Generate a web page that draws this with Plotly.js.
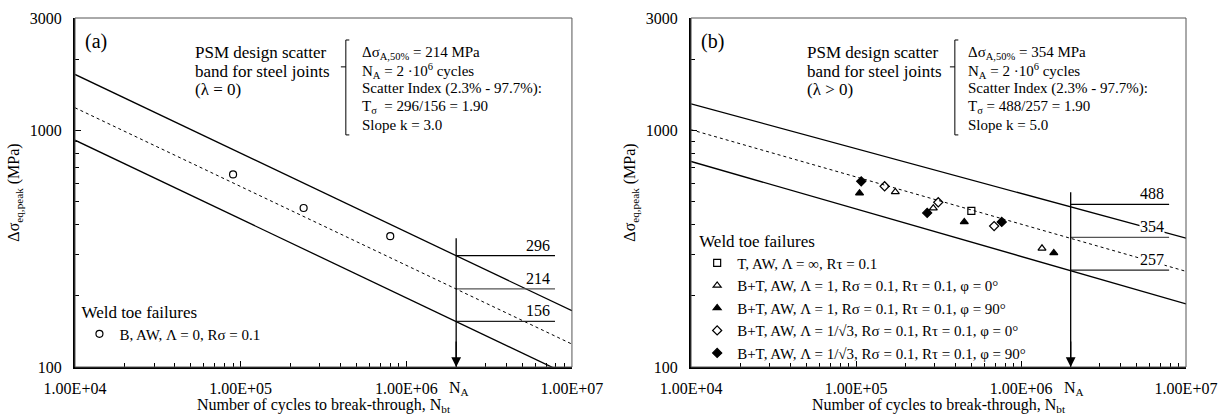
<!DOCTYPE html>
<html>
<head>
<meta charset="utf-8">
<script src="https://cdn.plot.ly/plotly-3.0.1.min.js"></script>
<style>html,body{margin:0;padding:0;background:#fff;}#chart{width:1221px;height:415px;}</style>
</head>
<body>
<div id="chart"></div>
<script>
// ---------- data ----------
const cyclesRange = [1e4, 1e7];
// panel (a): lambda = 0, slope k = 3
const bandA_upper  = [1731, 173];
const bandA_median = [1251, 125];
const bandA_lower  = [912, 91];
const levelsA = [296, 214, 156];
const arrowTopA = 351;
// panel (b): lambda > 0, slope k = 5
const bandB_upper  = [1300, 351];
const bandB_median = [1010, 254];
const bandB_lower  = [741, 185];
const levelsB = [488, 354, 257];
const arrowTopB = 549;
const NA = 2e6;
const levelLineEnd = 7.9e6;

// test data (a)
const ptsA_N = [9.0e4, 2.4e5, 8.0e5];
const ptsA_S = [653, 471, 358];
// test data (b)
const ptsT_N = [5.0e5];
const ptsT_S = [458];
const ptsBT1_0_N = [1.73e5, 2.94e5, 1.34e6];
const ptsBT1_0_S = [551, 470, 318];
const ptsBT1_90_N = [1.05e5, 4.53e5, 1.58e6];
const ptsBT1_90_S = [544, 411, 304];
const ptsBTr_0_N = [1.49e5, 3.15e5, 6.87e5];
const ptsBTr_0_S = [582, 498, 395];
const ptsBTr_90_N = [1.075e5, 2.70e5, 7.64e5];
const ptsBTr_90_S = [611, 449, 411];

const xTickVals = [1e4, 1e5, 1e6, 1e7];
const xTickText = ['1.00E+04', '1.00E+05', '1.00E+06', '1.00E+07'];
const yTickVals = [100, 1000, 3000];
const yTickText = ['100', '1000', '3000'];

const seriesNames = {
  a: 'B, AW, Λ = 0, Rσ = 0.1',
  t: 'T, AW, Λ = ∞, Rτ = 0.1',
  bt10: 'B+T, AW, Λ = 1, Rσ = 0.1, Rτ = 0.1, φ = 0°',
  bt190: 'B+T, AW, Λ = 1, Rσ = 0.1, Rτ = 0.1, φ = 90°',
  btr0: 'B+T, AW, Λ = 1/√3, Rσ = 0.1, Rτ = 0.1, φ = 0°',
  btr90: 'B+T, AW, Λ = 1/√3, Rσ = 0.1, Rτ = 0.1, φ = 90°'
};

const infoA = ['Δσ<sub>A,50%</sub> = 214 MPa', 'N<sub>A</sub> = 2 ·10<sup>6</sup> cycles',
  'Scatter Index (2.3% - 97.7%):', 'T<sub>σ</sub>  = 296/156 = 1.90', 'Slope k = 3.0'];
const infoB = ['Δσ<sub>A,50%</sub> = 354 MPa', 'N<sub>A</sub> = 2 ·10<sup>6</sup> cycles',
  'Scatter Index (2.3% - 97.7%):', 'T<sub>σ</sub> = 488/257 = 1.90', 'Slope k = 5.0'];
const titleA = ['PSM design scatter', 'band for steel joints', '(λ = 0)'];
const titleB = ['PSM design scatter', 'band for steel joints', '(λ > 0)'];

// ---------- build ----------
const FONT = 'Liberation Serif';
const FS = 15;
const traces = [];
function line(xs, ys, xa, ya, dash, color, width) {
  traces.push({x: xs, y: ys, xaxis: xa, yaxis: ya, mode: 'lines', showlegend: false,
    hoverinfo: 'skip', line: {color: color || '#000', width: width || 1.3, dash: dash || 'solid'}});
}
// bands
line(cyclesRange, bandA_upper, 'x', 'y');
line(cyclesRange, bandA_median, 'x', 'y', 'dot', '#000', 1);
line(cyclesRange, bandA_lower, 'x', 'y');
line(cyclesRange, bandB_upper, 'x2', 'y2');
line(cyclesRange, bandB_median, 'x2', 'y2', 'dot', '#000', 1);
line(cyclesRange, bandB_lower, 'x2', 'y2');
// level lines
const levelColors = ['#000', '#555', '#222'];
levelsA.forEach((v, i) => line([NA, levelLineEnd], [v, v], 'x', 'y', 'solid', levelColors[i], 1.2));
levelsB.forEach((v, i) => line([NA, levelLineEnd], [v, v], 'x2', 'y2', 'solid', levelColors[i], 1.2));
// arrow shafts
line([NA, NA], [arrowTopA, 100], 'x', 'y', 'solid', '#000', 1.3);
line([NA, NA], [arrowTopB, 100], 'x2', 'y2', 'solid', '#000', 1.3);

function pts(xs, ys, xa, ya, symbol, name, legend) {
  traces.push({x: xs, y: ys, xaxis: xa, yaxis: ya, mode: 'markers', name: name, legend: legend,
    marker: {symbol: symbol, size: 7, color: '#000', line: {color: '#000', width: 1.2}}});
}
pts(ptsA_N, ptsA_S, 'x', 'y', 'circle-open', seriesNames.a, 'legend');
pts(ptsT_N, ptsT_S, 'x2', 'y2', 'square-open', seriesNames.t, 'legend2');
pts(ptsBT1_0_N, ptsBT1_0_S, 'x2', 'y2', 'triangle-up-open', seriesNames.bt10, 'legend2');
pts(ptsBT1_90_N, ptsBT1_90_S, 'x2', 'y2', 'triangle-up', seriesNames.bt190, 'legend2');
pts(ptsBTr_0_N, ptsBTr_0_S, 'x2', 'y2', 'diamond-open', seriesNames.btr0, 'legend2');
pts(ptsBTr_90_N, ptsBTr_90_S, 'x2', 'y2', 'diamond', seriesNames.btr90, 'legend2');

function minorVals() {
  const v = [];
  for (let d = 4; d < 7; d++) for (let k = 2; k <= 9; k++) v.push(k * Math.pow(10, d));
  return v;
}
function minorY() {
  const v = [];
  for (let k = 2; k <= 9; k++) v.push(k * 100);
  v.push(2000);
  return v;
}
function xaxis(domain, anchor) {
  return {type: 'log', range: [Math.log10(cyclesRange[0]), Math.log10(cyclesRange[1])], domain: domain, anchor: anchor,
    tickvals: xTickVals, ticktext: xTickText, ticks: 'inside', ticklen: 6, tickwidth: 1, tickcolor: '#000',
    ticklabelstandoff: 6,
    minor: {tickvals: minorVals(), ticks: 'inside', ticklen: 4, tickcolor: '#000'},
    showgrid: false, zeroline: false, showline: true, linecolor: '#000', linewidth: 2,
    tickfont: {family: FONT, size: 16, color: '#000'},
    title: {text: 'Number of cycles to break-through, N<sub>bt</sub>', font: {family: FONT, size: 16, color: '#000'}, standoff: 2}};
}
function yaxis(anchor) {
  return {type: 'log', range: [2, Math.log10(3000)], anchor: anchor,
    tickvals: yTickVals, ticktext: yTickText, ticks: 'inside', ticklen: 6, tickcolor: '#000',
    ticklabelstandoff: 8,
    minor: {tickvals: minorY(), ticks: 'inside', ticklen: 4, tickcolor: '#000'},
    showgrid: false, zeroline: false, showline: true, linecolor: '#000', linewidth: 2,
    tickfont: {family: FONT, size: 16, color: '#000'},
    title: {text: 'Δσ<sub>eq,peak</sub> (MPa)', font: {family: FONT, size: 16, color: '#000'}, standoff: 6}};
}

const annotations = [];
function ann(o) { annotations.push(Object.assign({showarrow: false, font: {family: FONT, size: FS, color: '#000'}}, o)); }
const titleRows = [0.900, 0.848, 0.794];
const infoRows = [0.900, 0.848, 0.797, 0.745, 0.693];
function panelText(xr, yr, label, title, info, levels, bg) {
  const xd = xr + ' domain', yd = yr + ' domain';
  ann({xref: xd, yref: yd, x: 0.016, y: 0.934, xanchor: 'left', yanchor: 'middle', text: label, font: {family: FONT, size: 20, color: '#000'}});
  title.lines.forEach((t, i) => ann({xref: xd, yref: yd, x: title.x, y: titleRows[i], xanchor: 'left', yanchor: 'middle', text: t,
    font: {family: FONT, size: 17, color: '#000'}}));
  info.lines.forEach((t, i) => ann({xref: xd, yref: yd, x: info.x, y: infoRows[i], xanchor: 'left', yanchor: 'middle', text: t}));
  levels.forEach(v => ann({xref: xr, yref: yr, x: Math.log10(levelLineEnd), y: Math.log10(v), xanchor: 'right', yanchor: 'bottom',
    yshift: 1, xshift: -4, text: String(v), bgcolor: bg ? '#fff' : 'rgba(0,0,0,0)', borderpad: 0, font: {family: FONT, size: 16, color: '#000'}}));
  ann({xref: xr, yref: yd, x: Math.log10(NA), y: 0, yanchor: 'top', yshift: -10, xshift: 3, text: 'N<sub>A</sub>', font: {family: FONT, size: 16, color: '#000'}});
  ann({xref: xr, yref: yr, x: Math.log10(NA), y: Math.log10(100), ax: Math.log10(NA), ay: Math.log10(130), axref: xr, ayref: yr,
    showarrow: true, arrowhead: 2, arrowsize: 1.5, arrowwidth: 1.3, arrowcolor: '#000', text: ''});
}
panelText('x', 'y', '(a)', {x: 0.237, lines: titleA}, {x: 0.573, lines: infoA}, levelsA, false);
panelText('x2', 'y2', '(b)', {x: 0.230, lines: titleB}, {x: 0.556, lines: infoB}, levelsB, true);

const shapes = [];
function frame(xr, yr) {
  shapes.push({type: 'rect', xref: xr + ' domain', yref: yr + ' domain', x0: 0, x1: 1, y0: 0, y1: 1, line: {color: '#555', width: 1}});
}
function bracket(xr, yr, bx) {
  const L = {color: '#000', width: 1};
  const o = {xref: xr + ' domain', yref: yr + ' domain', type: 'line', line: L};
  shapes.push(Object.assign({}, o, {x0: bx, x1: bx, y0: 0.665, y1: 0.937}));
  shapes.push(Object.assign({}, o, {x0: bx, x1: bx + 0.007, y0: 0.937, y1: 0.937}));
  shapes.push(Object.assign({}, o, {x0: bx, x1: bx + 0.007, y0: 0.665, y1: 0.665}));
  shapes.push(Object.assign({}, o, {x0: bx - 0.01, x1: bx, y0: 0.86, y1: 0.86}));
}
frame('x', 'y'); frame('x2', 'y2');
bracket('x', 'y', 0.545); bracket('x2', 'y2', 0.533);

const legendCommon = {bgcolor: 'rgba(0,0,0,0)', font: {family: FONT, size: 15, color: '#000'}, itemwidth: 30,
  tracegroupgap: 0, xanchor: 'left', yanchor: 'top', itemclick: false};
const layout = {
  width: 1221, height: 415, paper_bgcolor: '#fff', plot_bgcolor: '#fff',
  margin: {l: 75, r: 35, t: 18, b: 48},
  showlegend: true,
  font: {family: FONT, size: FS, color: '#000'},
  xaxis: xaxis([0, 0.4473], 'y'), yaxis: yaxis('x'),
  xaxis2: xaxis([0.5545, 1], 'y2'), yaxis2: yaxis('x2'),
  legend: Object.assign({}, legendCommon, {x: 0.004, y: 0.205, title: {text: 'Weld toe failures', font: {family: FONT, size: 17, color: '#000'}}}),
  legend2: Object.assign({}, legendCommon, {x: 0.56, y: 0.408, title: {text: 'Weld toe failures', font: {family: FONT, size: 17, color: '#000'}}}),
  annotations: annotations, shapes: shapes
};
Plotly.newPlot('chart', traces, layout, {displayModeBar: false, staticPlot: true});
</script>
</body>
</html>
